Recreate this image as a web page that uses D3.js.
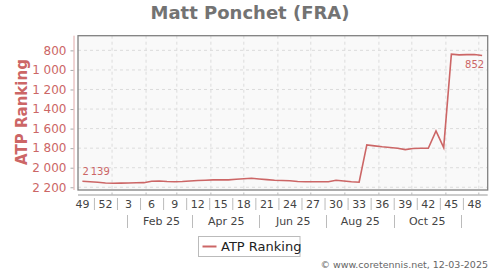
<!DOCTYPE html>
<html>
<head>
<meta charset="utf-8">
<script src="https://cdn.jsdelivr.net/npm/d3@7"></script>
<style>
  body { margin: 0; background: #fff; }
  svg { display: block; font-family: "DejaVu Sans", sans-serif; }
</style>
</head>
<body>
<script>
// weekly ATP ranking, week 49 (2024) -> week 49 (2025)
const ranks = [
  2139, 2144, 2148, 2156, 2159, 2158, 2156, 2154, 2153, 2139,
  2136, 2141, 2143, 2141, 2136, 2131, 2128, 2124, 2124, 2124,
  2118, 2113, 2108, 2115, 2122, 2128, 2131, 2133, 2141, 2143,
  2143, 2143, 2144, 2129, 2136, 2143, 2148, 1767, 1777, 1786,
  1793, 1801, 1815, 1803, 1801, 1801, 1624, 1795, 839, 846,
  844, 843, 852
]
const weekLabels = ["49","52","3","6","9","12","15","18","21","24","27","30","33","36","39","42","45","48"]
const monthLabels = ["Feb 25","Apr 25","Jun 25","Aug 25","Oct 25"]
const yTicks = [800, 1000, 1200, 1400, 1600, 1800, 2000, 2200]

const W = 500, H = 270
const red = "#cc6666"
const firstWeek = new Date(2024, 11, 5)
const dates = ranks.map((d, i) => d3.timeDay.offset(firstWeek, 7 * i))

const svg = d3.select("body").append("svg")
    .attr("width", W)
    .attr("height", H)

const x = d3.scaleTime()
    .domain([new Date(2024, 11, 1), new Date(2025, 11, 9, 2)])
    .range([78, 487.7])
const y = d3.scaleLinear()
    .domain([650, 2228])
    .range([35.7, 190])

const fmt = d3.formatLocale({decimal: ",", thousands: " ", grouping: [3], currency: ["", ""]}).format(",d")

// titulo
svg.append("text")
    .attr("x", 250).attr("y", 19)
    .attr("text-anchor", "middle")
    .style("font-size", "18px").style("font-weight", "bold")
    .attr("fill", "#737373")
    .text("Matt Ponchet (FRA)")

// fondo del grafico
svg.append("rect")
    .attr("x", 78).attr("y", 35.7)
    .attr("width", 409.7).attr("height", 154.3)
    .attr("fill", "#f9f9f9")

// rejilla
const monthStarts = d3.timeMonth.range(new Date(2025, 0, 1), new Date(2025, 11, 2))
svg.append("g").selectAll("line")
    .data(yTicks)
    .enter().append("line")
    .attr("x1", 78).attr("x2", 487.7)
    .attr("y1", d => y(d)).attr("y2", d => y(d))
    .attr("stroke", "#dcdcdc").attr("stroke-dasharray", "3,3")
svg.append("g").selectAll("line")
    .data(monthStarts)
    .enter().append("line")
    .attr("x1", d => x(d)).attr("x2", d => x(d))
    .attr("y1", 35.7).attr("y2", 190)
    .attr("stroke", "#dcdcdc").attr("stroke-dasharray", "3,3")

svg.append("rect")
    .attr("x", 78).attr("y", 35.7)
    .attr("width", 409.7).attr("height", 154.3)
    .attr("fill", "none")
    .attr("stroke", "#808080").attr("stroke-width", 1.3)

// eje Y
const yAxis = svg.append("g")
    .attr("transform", "translate(73.5,0)")
    .call(d3.axisLeft(y).tickValues(yTicks).tickFormat(fmt).tickSizeOuter(0).tickSize(3).tickPadding(4))
yAxis.select(".domain").attr("stroke", "#e0a8a8").attr("d", "M0.5,35.7V190")
yAxis.selectAll(".tick line").attr("stroke", "#aaa")
yAxis.selectAll(".tick text")
    .attr("fill", red)
    .style("font-size", "12px")
    .style("font-family", "DejaVu Sans, sans-serif")

svg.append("text")
    .attr("transform", "translate(27,112) rotate(-90)")
    .attr("text-anchor", "middle")
    .attr("fill", red)
    .style("font-size", "15px").style("font-weight", "bold")
    .text("ATP Ranking")

// eje X
svg.append("line")
    .attr("x1", 78).attr("x2", 487.7)
    .attr("y1", 195).attr("y2", 195)
    .attr("stroke", "#999")
svg.append("g").selectAll("line")
    .data(monthStarts)
    .enter().append("line")
    .attr("x1", d => x(d)).attr("x2", d => x(d))
    .attr("y1", 192.5).attr("y2", 195)
    .attr("stroke", "#bbb")

const weekPos = weekLabels.map((d, i) => dates[i * 3])
svg.append("g").selectAll("text")
    .data(weekLabels)
    .enter().append("text")
    .attr("x", (d, i) => x(weekPos[i]))
    .attr("y", 208)
    .attr("text-anchor", "middle")
    .attr("fill", "#444")
    .style("font-size", "11px")
    .text(d => d)
svg.append("g").selectAll("line")
    .data(weekPos.slice(1))
    .enter().append("line")
    .attr("x1", (d, i) => (x(weekPos[i]) + x(d)) / 2 + 0.5)
    .attr("x2", (d, i) => (x(weekPos[i]) + x(d)) / 2 + 0.5)
    .attr("y1", 198).attr("y2", 210)
    .attr("stroke", "#bbb")

const monthMid = monthLabels.map((d, i) => new Date(2025, 1 + i * 2, 15))
const monthSep = d3.range(6).map(i => new Date(2025, i * 2, 15))
svg.append("g").selectAll("text")
    .data(monthLabels)
    .enter().append("text")
    .attr("x", (d, i) => x(monthMid[i]))
    .attr("y", 225)
    .attr("text-anchor", "middle")
    .attr("fill", "#444")
    .style("font-size", "11px")
    .text(d => d)
svg.append("g").selectAll("line")
    .data(monthSep)
    .enter().append("line")
    .attr("x1", d => Math.round(x(d)) + 0.5).attr("x2", d => Math.round(x(d)) + 0.5)
    .attr("y1", 215).attr("y2", 228)
    .attr("stroke", "#bbb")

// linea del ranking
const line = d3.line()
    .x((d, i) => x(dates[i]))
    .y(d => y(d))
svg.append("path")
    .datum(ranks)
    .attr("d", line)
    .attr("fill", "none")
    .attr("stroke", red)
    .attr("stroke-width", 1.6)

const last = ranks.length - 1
svg.append("text")
    .attr("x", x(dates[0]))
    .attr("y", y(ranks[0]) - 6)
    .attr("fill", red)
    .style("font-size", "10px")
    .text(fmt(ranks[0]).replace(" ", "\u2009"))
svg.append("text")
    .attr("x", x(dates[last]) + 2)
    .attr("y", y(ranks[last]) + 13)
    .attr("text-anchor", "end")
    .attr("fill", red)
    .style("font-size", "10px")
    .text(fmt(ranks[last]))

// leyenda
const lg = svg.append("g").attr("transform", "translate(198.5,236.5)")
lg.append("rect")
    .attr("width", 101.5).attr("height", 20)
    .attr("fill", "#fff").attr("stroke", "#bbb")
lg.append("line")
    .attr("x1", 4).attr("x2", 18).attr("y1", 10).attr("y2", 10)
    .attr("stroke", red).attr("stroke-width", 2)
lg.append("text")
    .attr("x", 22.5).attr("y", 14.5)
    .attr("fill", "#222")
    .style("font-size", "13px")
    .text("ATP Ranking")

svg.append("text")
    .attr("x", 488).attr("y", 268)
    .attr("text-anchor", "end")
    .attr("fill", "#666")
    .style("font-size", "9.5px")
    .text("© www.coretennis.net, 12-03-2025")
</script>
</body>
</html>
